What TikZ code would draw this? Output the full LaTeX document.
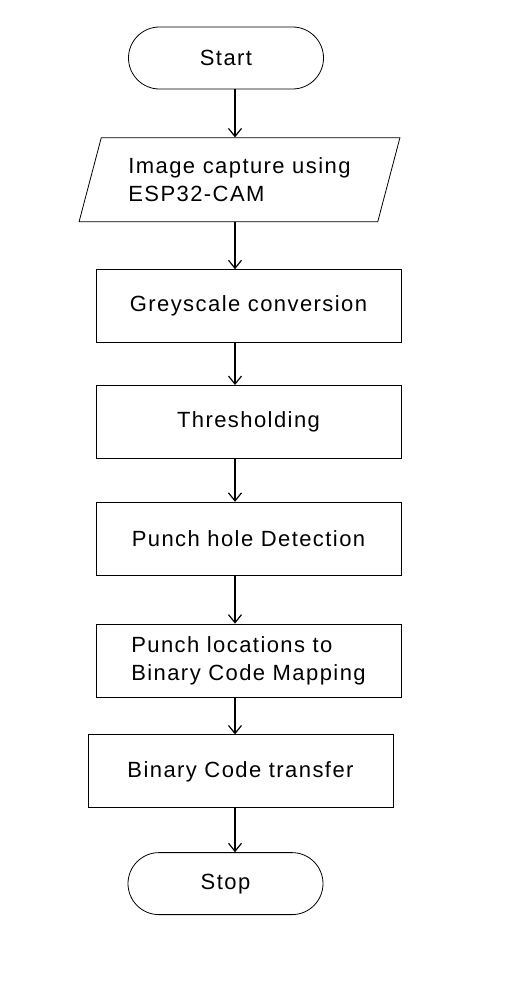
\documentclass[tikz,border=0pt]{standalone}
\usepackage{fontspec}
\setmainfont[LetterSpace=6.5]{Liberation Sans}
\usetikzlibrary{positioning, shapes.geometric, shapes.misc, arrows.meta}

\begin{document}
\begin{tikzpicture}[x=1pt, y=-1pt,
    every node/.style={font=\fontsize{22}{28}\selectfont},
    term/.style={draw, line width=0.8pt, rounded rectangle, minimum width=195pt, minimum height=62pt, inner sep=0pt},
    io/.style={draw, line width=0.8pt, trapezium, trapezium left angle=68, trapezium right angle=112, trapezium stretches=true, minimum width=321pt, minimum height=84pt, inner sep=0pt, align=left},
    procbox/.style={draw, line width=0.8pt, rectangle, minimum width=305pt, minimum height=73pt, inner sep=0pt, align=left},
    arr/.style={line width=1.2pt, -{Straight Barb[length=8pt, width=13pt]}}]
        \useasboundingbox (0,0) rectangle (519,992);

        \node (start) [term] at (226,58) {Start};
        \node (capture) [io, below=48pt of start, xshift=13.5pt] {Image capture using\\ESP32-CAM};
        \node (grey) [procbox, below=47pt of capture, xshift=9pt] {Greyscale conversion};
        \node (thresh) [procbox, below=42pt of grey] {Thresholding};
        \node (detect) [procbox, below=43pt of thresh] {Punch hole Detection};
        \node (mapping) [procbox, below=48pt of detect] {Punch locations to\\Binary Code Mapping};
        \node (transfer) [procbox, below=37pt of mapping, xshift=-8pt] {Binary Code transfer};
        \node (stop) [term, below=44pt of transfer, xshift=-15pt] {Stop};

        \coordinate (axis) at (235,0);
        \draw[arr] (start.south -| axis) -- (capture.north -| axis);
        \draw[arr] (capture.south -| axis) -- (grey.north -| axis);
        \draw[arr] (grey.south -| axis) -- (thresh.north -| axis);
        \draw[arr] (thresh.south -| axis) -- (detect.north -| axis);
        \draw[arr] (detect.south -| axis) -- (mapping.north -| axis);
        \draw[arr] (mapping.south -| axis) -- (transfer.north -| axis);
        \draw[arr] (transfer.south -| axis) -- (stop.north -| axis);
    \end{tikzpicture}
\end{document}
